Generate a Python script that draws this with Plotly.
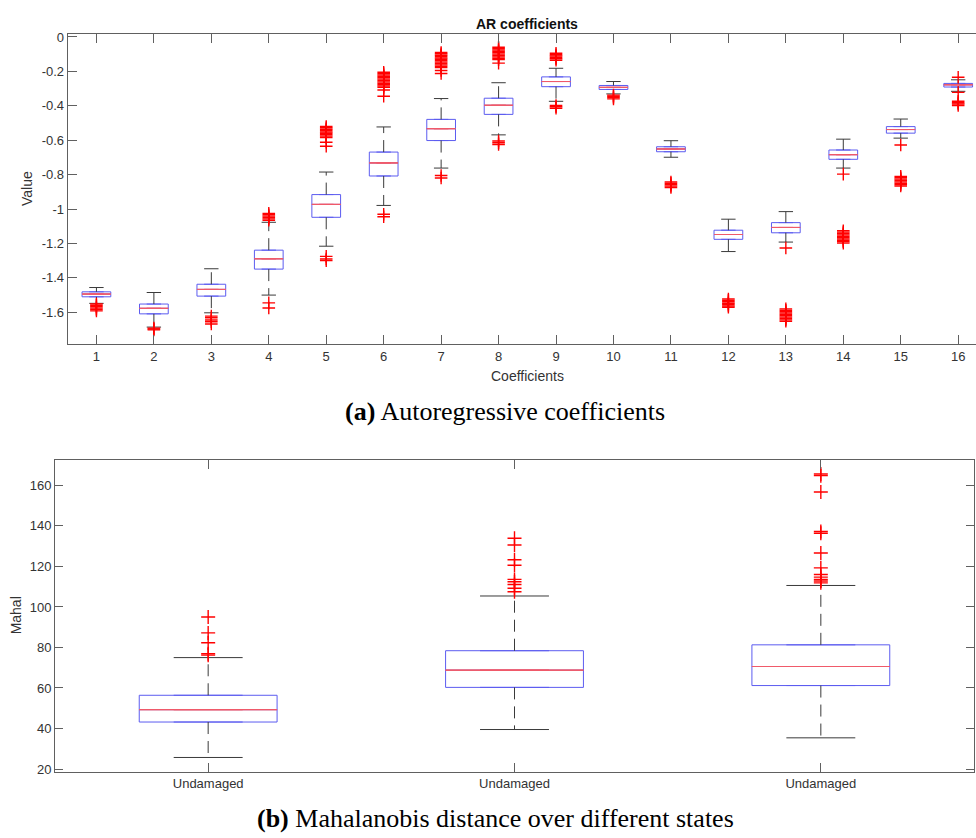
import plotly.graph_objects as go

# ---------------- data: AR coefficients (top panel) ----------------
ar_positions = list(range(1, 17))
ar_ticklabels = [str(i) for i in ar_positions]
ar_upper = [-1.456, -1.485, -1.347, -1.077, -0.785, -0.523, -0.358, -0.266,
            -0.182, -0.259, -0.603, -1.059, -1.015, -0.594, -0.477, -0.249]
ar_q3 = [-1.481, -1.552, -1.437, -1.239, -0.916, -0.669, -0.479, -0.356,
         -0.232, -0.282, -0.638, -1.123, -1.079, -0.657, -0.521, -0.270]
ar_median = [-1.494, -1.577, -1.467, -1.289, -0.973, -0.732, -0.533, -0.397,
             -0.259, -0.293, -0.651, -1.148, -1.107, -0.684, -0.538, -0.278]
ar_q1 = [-1.510, -1.609, -1.506, -1.349, -1.048, -0.808, -0.602, -0.450,
         -0.289, -0.305, -0.667, -1.176, -1.138, -0.711, -0.559, -0.291]
ar_lower = [-1.548, -1.686, -1.603, -1.500, -1.216, -0.979, -0.762, -0.569,
            -0.374, -0.331, -0.699, -1.247, -1.192, -0.762, -0.588, -0.316]
ar_outliers = [
    [-1.552, -1.560, -1.568, -1.576, -1.584, -1.592],
    [-1.692, -1.697, -1.702],
    [-1.622, -1.632, -1.645, -1.655, -1.668],
    [-1.025, -1.033, -1.041, -1.049, -1.057, -1.065, -1.545, -1.575],
    [-0.520, -0.528, -0.536, -0.544, -0.552, -0.560, -0.568, -0.576, -0.584,
     -0.612, -0.635, -1.275, -1.290, -1.300],
    [-0.205, -0.213, -0.221, -0.229, -0.237, -0.245, -0.253, -0.261, -0.269,
     -0.277, -0.285, -0.293, -0.308, -0.345, -1.030, -1.045],
    [-0.090, -0.098, -0.106, -0.114, -0.122, -0.130, -0.138, -0.146, -0.154,
     -0.162, -0.170, -0.178, -0.195, -0.212, -0.805, -0.820],
    [-0.060, -0.068, -0.076, -0.084, -0.092, -0.100, -0.108, -0.116, -0.124,
     -0.132, -0.152, -0.605, -0.615, -0.625],
    [-0.095, -0.103, -0.111, -0.119, -0.127, -0.135, -0.398, -0.406, -0.414],
    [-0.338, -0.345, -0.352, -0.360],
    [-0.843, -0.851, -0.859, -0.867, -0.875],
    [-1.523, -1.531, -1.539, -1.547, -1.555, -1.563, -1.571],
    [-1.226, -1.580, -1.588, -1.596, -1.604, -1.612, -1.620, -1.628, -1.636,
     -1.644, -1.652],
    [-0.797, -1.126, -1.134, -1.142, -1.150, -1.158, -1.166, -1.174, -1.182,
     -1.190, -1.198],
    [-0.628, -0.810, -0.818, -0.826, -0.834, -0.842, -0.850, -0.858, -0.866],
    [-0.234, -0.322, -0.374, -0.382, -0.390, -0.398],
]
ar_yticks = [0, -0.2, -0.4, -0.6, -0.8, -1, -1.2, -1.4, -1.6]
ar_yticklabels = ["0", "-0.2", "-0.4", "-0.6", "-0.8", "-1", "-1.2", "-1.4", "-1.6"]

# ---------------- data: Mahalanobis distance (bottom panel) ----------------
mahal_states = ["Undamaged", "Undamaged", "Undamaged"]
mahal_positions = [1, 2, 3]
mahal_upper = [75.0, 105.4, 110.6]
mahal_q3 = [56.4, 78.4, 81.3]
mahal_median = [49.3, 68.8, 70.6]
mahal_q1 = [43.2, 60.3, 61.2]
mahal_lower = [25.7, 39.5, 35.4]
mahal_outliers = [
    [95.0, 87.2, 82.3, 76.9, 76.2],
    [133.9, 130.6, 123.3, 120.6, 113.6, 112.4, 111.1, 109.2, 107.5],
    [165.6, 164.8, 156.7, 137.2, 136.4, 126.6, 119.3, 116.0, 114.7, 113.6,
     112.8, 111.9],
]
mahal_yticks = [20, 40, 60, 80, 100, 120, 140, 160]

W, H = 976, 838
AXC = "#606060"
TXT = "#333333"
BOX_BLUE = "#5c5cf0"
MED_RED = "#f05a6a"
SANS = "Liberation Sans, Arial, sans-serif"
SERIF = "Liberation Serif, Times New Roman, serif"

fig = go.Figure()


def add_boxplot(xa, ya, pos, upper, q3, med, q1, lower, outliers, bw, msize):
    cw = bw / 4.0
    # whiskers (dashed)
    wx, wy = [], []
    for p, u, t, b, l in zip(pos, upper, q3, q1, lower):
        wx += [p, p, None, p, p, None]
        wy += [t, u, None, b, l, None]
    fig.add_trace(go.Scatter(x=wx, y=wy, mode="lines", xaxis=xa, yaxis=ya,
                             line=dict(color="#3a3a3a", width=1, dash="12px,7px"),
                             showlegend=False, hoverinfo="skip"))
    # whisker caps
    cx, cy = [], []
    for p, u, l in zip(pos, upper, lower):
        cx += [p - cw, p + cw, None, p - cw, p + cw, None]
        cy += [u, u, None, l, l, None]
    fig.add_trace(go.Scatter(x=cx, y=cy, mode="lines", xaxis=xa, yaxis=ya,
                             line=dict(color="#3a3a3a", width=1),
                             showlegend=False, hoverinfo="skip"))
    # boxes (blue)
    fig.add_trace(go.Box(x=pos, q1=q1, median=med, q3=q3, lowerfence=q1,
                         upperfence=q3, width=bw, orientation="v",
                         line=dict(color=BOX_BLUE, width=1),
                         fillcolor="rgba(0,0,0,0)", boxpoints=False,
                         xaxis=xa, yaxis=ya, showlegend=False, hoverinfo="skip"))
    # medians (red)
    fig.add_trace(go.Box(x=pos, q1=med, median=med, q3=med, lowerfence=med,
                         upperfence=med, width=bw, orientation="v",
                         line=dict(color=MED_RED, width=1),
                         fillcolor="rgba(0,0,0,0)", boxpoints=False,
                         xaxis=xa, yaxis=ya, showlegend=False, hoverinfo="skip"))
    # outliers
    ox, oy = [], []
    for p, outs in zip(pos, outliers):
        ox += [p] * len(outs)
        oy += outs
    fig.add_trace(go.Scatter(x=ox, y=oy, mode="markers", xaxis=xa, yaxis=ya,
                             marker=dict(symbol="cross-thin", size=msize,
                                         line=dict(color="red", width=1.4)),
                             showlegend=False, hoverinfo="skip"))


add_boxplot("x", "y", ar_positions, ar_upper, ar_q3, ar_median, ar_q1, ar_lower,
            ar_outliers, 0.5, 9)
add_boxplot("x2", "y2", mahal_positions, mahal_upper, mahal_q3, mahal_median,
            mahal_q1, mahal_lower, mahal_outliers, 0.45, 10)

common_axis = dict(showline=True, linecolor=AXC, linewidth=1, ticks="inside",
                   tickcolor=AXC, tickwidth=1, showgrid=False, zeroline=False,
                   tickfont=dict(family=SANS, size=13, color=TXT))

fig.update_layout(
    width=W, height=H,
    margin=dict(l=0, r=0, t=0, b=0),
    paper_bgcolor="white", plot_bgcolor="white",
    boxmode="overlay",
    xaxis=dict(common_axis, domain=[67.7 / W, 1.0], anchor="y",
               range=[0.5, 16.31], tickmode="array", tickvals=ar_positions,
               ticktext=ar_ticklabels, ticklen=9, mirror="ticks"),
    yaxis=dict(common_axis, domain=[1 - 344 / H, 1 - 30 / H], anchor="x",
               range=[-1.786, 0.019], tickmode="array", tickvals=ar_yticks,
               ticktext=ar_yticklabels, ticklen=9),
    xaxis2=dict(common_axis, domain=[55 / W, 974 / W], anchor="y2",
                range=[0.5, 3.5], tickmode="array", tickvals=mahal_positions,
                ticktext=mahal_states, ticklen=9, mirror="ticks"),
    yaxis2=dict(common_axis, domain=[1 - 776 / H, 1 - 461 / H], anchor="x2",
                range=[18.7, 172.5], tickmode="array", tickvals=mahal_yticks,
                ticklen=8, mirror="ticks"),
)

ann = [
    dict(text="<b>AR coefficients</b>", x=527 / W, y=1 - 20 / H,
         font=dict(family=SANS, size=14, color="#111111")),
    dict(text="Coefficients", x=527 / W, y=1 - 376 / H,
         font=dict(family=SANS, size=14, color=TXT)),
    dict(text="Value", x=27 / W, y=1 - 187 / H, textangle=-90,
         font=dict(family=SANS, size=14, color=TXT)),
    dict(text="Mahal", x=16 / W, y=1 - 618 / H, textangle=-90,
         font=dict(family=SANS, size=14, color=TXT)),
    dict(text="<b>(a)</b> Autoregressive coefficients", x=505 / W, y=1 - 412 / H,
         font=dict(family=SERIF, size=26, color="black")),
    dict(text="<b>(b)</b> Mahalanobis distance over different states",
         x=495 / W, y=1 - 823 / H,
         font=dict(family=SERIF, size=26, color="black")),
]
for a in ann:
    fig.add_annotation(xref="paper", yref="paper", showarrow=False,
                       xanchor="center", yanchor="middle", **a)

fig.write_html("out.html")
